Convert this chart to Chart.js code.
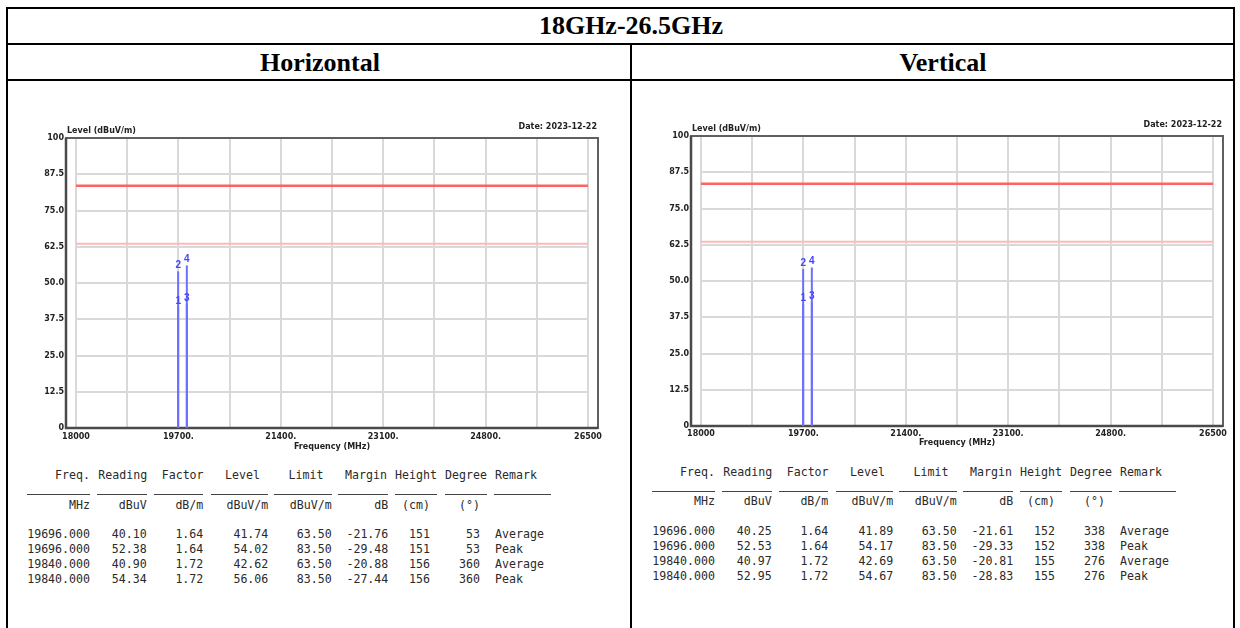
<!DOCTYPE html>
<html>
<head>
<meta charset="utf-8">
<title>18GHz-26.5GHz</title>
<script src="https://cdn.jsdelivr.net/npm/chart.js@4.4.1/dist/chart.umd.min.js"></script>
<style>
  html, body { margin: 0; padding: 0; background: #fff; }
  body { width: 1240px; height: 628px; position: relative; overflow: hidden; }
  .rule { position: absolute; background: #000; }
  .cap { position: absolute; font-family: "Liberation Serif", "Times New Roman", serif; font-weight: bold;
         font-size: 26px; line-height: 30px; text-align: center; color: #000; white-space: nowrap; }
  canvas { position: absolute; }
  .mono { position: absolute; font-family: "DejaVu Sans Mono", monospace; font-size: 11.6px;
          line-height: 14px; color: #2a2a2a; white-space: pre; }
  .ul { position: absolute; height: 1px; background: #444; }
</style>
</head>
<body>
<!-- table frame -->
<div class="rule" style="left:6px;top:7px;width:1229px;height:2px"></div>
<div class="rule" style="left:6px;top:43px;width:1229px;height:2px"></div>
<div class="rule" style="left:6px;top:79px;width:1229px;height:2px"></div>
<div class="rule" style="left:6px;top:7px;width:2px;height:621px"></div>
<div class="rule" style="left:1233px;top:7px;width:2px;height:621px"></div>
<div class="rule" style="left:630px;top:43px;width:2px;height:585px"></div>

<div class="cap" style="left:431px;width:400px;top:11px">18GHz-26.5GHz</div>
<div class="cap" style="left:170px;width:300px;top:48px">Horizontal</div>
<div class="cap" style="left:793px;width:300px;top:48px">Vertical</div>

<canvas id="chartH" width="615" height="380" style="left:10px;top:80px"></canvas>
<canvas id="chartV" width="595" height="380" style="left:635px;top:80px"></canvas>

<div id="tables"></div>

<script>
// ---- measurement data ----
const freqH    = [19696, 19696, 19840, 19840];
const readingH = [40.10, 52.38, 40.90, 54.34];
const factorH  = [1.64, 1.64, 1.72, 1.72];
const levelH   = [41.74, 54.02, 42.62, 56.06];
const limitH   = [63.50, 83.50, 63.50, 83.50];
const marginH  = [-21.76, -29.48, -20.88, -27.44];
const heightH  = [151, 151, 156, 156];
const degreeH  = [53, 53, 360, 360];

const freqV    = [19696, 19696, 19840, 19840];
const readingV = [40.25, 52.53, 40.97, 52.95];
const factorV  = [1.64, 1.64, 1.72, 1.72];
const levelV   = [41.89, 54.17, 42.69, 54.67];
const limitV   = [63.50, 83.50, 63.50, 83.50];
const marginV  = [-21.61, -29.33, -20.81, -28.83];
const heightV  = [152, 152, 155, 155];
const degreeV  = [338, 338, 276, 276];

const remarks  = ['Average', 'Peak', 'Average', 'Peak'];

// limit lines (dBuV/m)
const limitPeak = 83.5;
const limitAvg  = 63.5;

// axis ranges and ticks
const freqMin = 18000, freqMax = 26500;
const freqGrid = [18000, 18850, 19700, 20550, 21400, 22250, 23100, 23950, 24800, 25650, 26500];
const freqLabelValues = [18000, 19700, 21400, 23100, 24800, 26500];
const freqLabelTexts  = ['18000', '19700.', '21400.', '23100.', '24800.', '26500'];
const levelMin = 0, levelMax = 100, levelStep = 12.5;

const headers = ['Freq.', 'Reading', 'Factor', 'Level', 'Limit', 'Margin', 'Height', 'Degree', 'Remark'];
const units   = ['MHz', 'dBuV', 'dB/m', 'dBuV/m', 'dBuV/m', 'dB', '(cm)', '(\u00b0)'];

const dateText = 'Date: 2023-12-22';

// ---- charts ----
const labelFont = { family: 'DejaVu Sans', size: 8, weight: 'bold' };

const framePlugin = {
  id: 'frame',
  beforeDatasetsDraw(chart) {
    const a = chart.chartArea, c = chart.ctx;
    c.save();
    c.strokeStyle = '#606060';
    c.lineWidth = 2;
    c.strokeRect(a.left - 10, a.top, a.right - a.left + 20, a.bottom - a.top);
    // axis lines drawn a little heavier
    c.strokeStyle = '#4a4a4a';
    c.lineWidth = 2.5;
    c.beginPath();
    c.moveTo(a.left - 10, a.top);
    c.lineTo(a.left - 10, a.bottom);
    c.lineTo(a.right + 10, a.bottom);
    c.stroke();
    c.restore();
  }
};

const textPlugin = {
  id: 'texts',
  afterDatasetsDraw(chart) {
    const a = chart.chartArea, c = chart.ctx;
    const xs = chart.scales.x, ys = chart.scales.y;
    const m = chart.options.plugins.texts;
    c.save();
    // marker numbers
    c.fillStyle = '#4646ff';
    c.font = 'bold 10px "Liberation Sans", Arial, sans-serif';
    c.textAlign = 'center';
    c.textBaseline = 'middle';
    m.freq.forEach((f, i) => {
      c.fillText(String(i + 1), xs.getPixelForValue(f), ys.getPixelForValue(m.level[i]) - 6);
    });
    // axis captions and date
    c.fillStyle = '#222';
    c.font = 'bold 8px "DejaVu Sans", sans-serif';
    c.textAlign = 'left';
    c.fillText('Level (dBuV/m)', a.left - 9, a.top - 7);
    c.textAlign = 'center';
    c.fillText('Frequency (MHz)', (a.left + a.right) / 2, a.bottom + m.freqTitleDy);
    c.textAlign = 'right';
    c.fillText(dateText, a.right + 9, a.top - 11);
    c.restore();
  }
};

function makeChart(id, freq, level, pad, tickPad, freqTitleDy) {
  const datasets = [
    { data: [{ x: freqMin, y: limitPeak }, { x: freqMax, y: limitPeak }], borderColor: '#ff6262', borderWidth: 2.5 },
    { data: [{ x: freqMin, y: limitAvg }, { x: freqMax, y: limitAvg }], borderColor: '#ffb8b8', borderWidth: 2 }
  ];
  freq.forEach((f, i) => {
    datasets.push({ data: [{ x: f, y: 0 }, { x: f, y: level[i] }], borderColor: '#6e6eff', borderWidth: 2 });
  });
  datasets.forEach(d => { d.showLine = true; d.pointRadius = 0; d.pointHoverRadius = 0; d.fill = false; d.tension = 0; });

  return new Chart(document.getElementById(id), {
    type: 'scatter',
    data: { datasets },
    options: {
      responsive: false,
      animation: false,
      devicePixelRatio: 1,
      events: [],
      layout: { padding: pad },
      plugins: { legend: { display: false }, tooltip: { enabled: false },
                 texts: { freq, level, freqTitleDy } },
      scales: {
        x: {
          type: 'linear', min: freqMin, max: freqMax,
          afterBuildTicks(scale) { scale.ticks = freqGrid.map(v => ({ value: v })); },
          afterFit(scale) { scale.height = 20; },
          grid: { color: '#d9d9d9', lineWidth: 2, drawTicks: false },
          border: { display: false },
          ticks: {
            autoSkip: false, maxRotation: 0, padding: tickPad, color: '#222', font: labelFont,
            callback(v) { const k = freqLabelValues.indexOf(v); return k >= 0 ? freqLabelTexts[k] : ''; }
          }
        },
        y: {
          type: 'linear', min: levelMin, max: levelMax,
          afterFit(scale) { scale.width = 50; },
          grid: { color: '#d9d9d9', lineWidth: 2, drawTicks: false },
          border: { display: false },
          ticks: {
            stepSize: levelStep, padding: 12, color: '#222', font: labelFont,
            callback(v) { return (v === levelMin || v === levelMax) ? String(v) : v.toFixed(1); }
          }
        }
      }
    },
    plugins: [framePlugin, textPlugin]
  });
}

makeChart('chartH', freqH, levelH, { left: 16, right: 37, top: 58, bottom: 12 }, 4, 19);
makeChart('chartV', freqV, levelV, { left: 16, right: 17, top: 56, bottom: 14 }, 3, 17);

// ---- result tables ----
const colRight  = [90, 146.7, 203.3, 268.3, 331.7, 388.3, 430, 480];
const remarkX   = 495;
const headLeft  = [55, 98.3, 161.7, 225, 288.6, 345, 395, 445, 495];
const ulSpans   = [[27.3, 90], [97.3, 146.7], [154.3, 203.3], [211, 268.3], [274.4, 331.7],
                   [338.3, 388.3], [395, 436.7], [445, 486.7], [494.3, 550.7]];

const host = document.getElementById('tables');
function cellRight(text, xr, cy) {
  const d = document.createElement('div');
  d.className = 'mono';
  d.textContent = text;
  d.style.right = (1240 - xr) + 'px';
  d.style.top = (cy - 7) + 'px';
  host.appendChild(d);
}
function cellLeft(text, xl, cy) {
  const d = document.createElement('div');
  d.className = 'mono';
  d.textContent = text;
  d.style.left = xl + 'px';
  d.style.top = (cy - 7) + 'px';
  host.appendChild(d);
}

function makeTable(dx, y0, cols) {
  headers.forEach((h, i) => cellLeft(h, headLeft[i] + dx, y0));
  ulSpans.forEach(([a, b]) => {
    const u = document.createElement('div');
    u.className = 'ul';
    u.style.left = (a + dx) + 'px';
    u.style.width = (b - a) + 'px';
    u.style.top = Math.round(y0 + 19) + 'px';
    host.appendChild(u);
  });
  units.forEach((t, i) => cellRight(t, colRight[i] + dx, y0 + 29.5));
  for (let r = 0; r < cols.freq.length; r++) {
    const cy = y0 + 59 + r * 15;
    const vals = [cols.freq[r].toFixed(3), cols.reading[r].toFixed(2), cols.factor[r].toFixed(2),
                  cols.level[r].toFixed(2), cols.limit[r].toFixed(2), cols.margin[r].toFixed(2),
                  String(cols.height[r]), String(cols.degree[r])];
    vals.forEach((v, i) => cellRight(v, colRight[i] + dx, cy));
    cellLeft(remarks[r], remarkX + dx, cy);
  }
}

makeTable(0, 475, { freq: freqH, reading: readingH, factor: factorH, level: levelH,
                    limit: limitH, margin: marginH, height: heightH, degree: degreeH });
makeTable(625, 471.7, { freq: freqV, reading: readingV, factor: factorV, level: levelV,
                        limit: limitV, margin: marginV, height: heightV, degree: degreeV });
</script>
</body>
</html>
